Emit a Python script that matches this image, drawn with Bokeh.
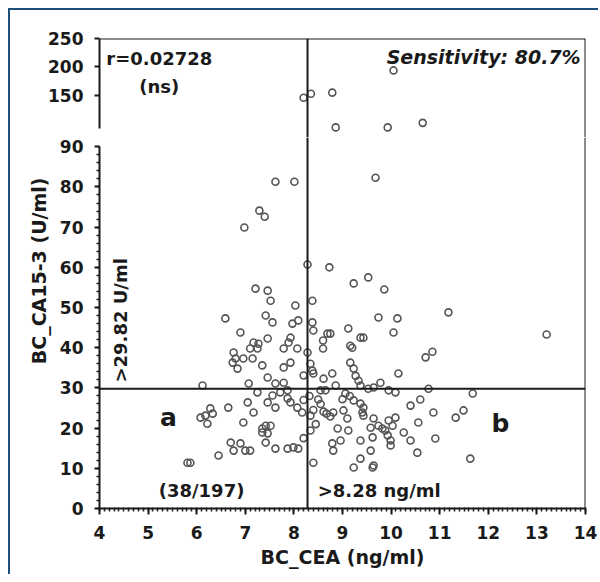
from bokeh.plotting import figure
from bokeh.layouts import column
from bokeh.models import Range1d, Span, Label, SingleIntervalTicker, FixedTicker, Title
from bokeh.embed import file_html
from bokeh.resources import INLINE

# ---------------- data ----------------
cea = [
    # upper segment (>90)
    8.20, 8.35, 8.79, 10.05, 8.86, 9.93, 10.65,
    # 60-90
    7.62, 8.01, 9.68, 6.98, 7.29, 7.40, 8.28, 8.73,
    # 45-60
    7.21, 7.46, 7.52, 8.03, 8.38, 6.59, 7.42, 7.56, 7.97, 8.09, 8.38, 9.23, 9.53, 9.86, 11.18, 9.74, 10.13,
    # 35-45
    8.40, 6.90, 7.46, 7.27, 7.17, 7.10, 7.25, 7.93, 7.89, 7.79, 8.07, 6.76, 6.80, 6.96, 7.15, 6.74, 6.84,
    7.35, 7.79, 7.93, 8.28, 8.69, 8.60, 8.60, 13.20, 9.12, 10.05, 9.37, 9.43, 9.16, 9.20, 10.85, 10.71,
    9.16, 9.23, 8.75, 8.34, 8.38,
    # 30-35
    7.46, 7.62, 7.79, 7.07, 8.20, 8.40, 8.61, 8.79, 9.27, 9.33, 9.78, 10.15, 8.86, 9.37, 6.12,
    # near 30
    7.25, 7.56, 7.72, 7.87, 9.53, 9.64, 9.95, 10.09, 10.77, 11.68, 9.06, 8.55, 8.65,
    # left 18-28
    7.05, 7.46, 7.62, 7.93, 8.07, 8.17, 6.65, 7.17, 6.28, 6.18, 6.08, 6.33, 6.22, 6.96, 7.35, 7.42, 7.52,
    7.35, 7.87, 8.20,
    # left 10-18
    6.70, 6.76, 6.90, 7.00, 7.10, 7.42, 7.46, 7.62, 7.87, 7.99, 8.09, 6.45, 5.81, 5.87, 8.20,
    # right bottom
    9.23, 9.37, 9.43, 9.41, 9.43, 10.40, 10.60, 10.87, 11.33, 11.49, 8.81, 9.02, 9.10, 9.64, 9.74, 9.95,
    10.09, 10.03, 10.56, 8.90, 9.12, 9.58, 9.82, 9.88, 9.93, 9.99, 10.26, 10.40, 10.91, 8.96, 8.79, 8.81,
    9.37, 9.62, 9.99, 9.58, 10.54, 9.37, 9.23, 9.62, 9.64, 11.63, 8.40, 8.34, 8.40, 8.61, 8.67, 8.75,
    8.34, 8.50, 8.32, 8.45, 8.55, 9.15, 9.00,
]
ca153 = [
    146, 153, 155, 194, 94, 94, 102,
    81.3, 81.3, 82.3, 69.9, 74.1, 72.6, 60.7, 60.0,
    54.7, 54.2, 51.7, 50.5, 51.7, 47.3, 48.0, 46.3, 46.0, 46.8, 46.3, 56.0, 57.5, 54.5, 48.8, 47.5, 47.3,
    44.3, 43.8, 42.3, 41.0, 41.3, 39.8, 39.8, 42.5, 41.3, 39.8, 39.8, 38.8, 37.3, 37.3, 37.3, 36.3, 34.8,
    35.6, 35.1, 36.3, 38.8, 43.5, 41.8, 39.8, 43.3, 44.8, 43.8, 42.5, 42.5, 40.5, 40.0, 39.0, 37.6,
    36.3, 34.8, 43.5, 36.0, 34.3,
    32.6, 31.1, 31.3, 31.1, 33.1, 33.6, 32.3, 33.6, 33.0, 31.8, 31.3, 33.6, 30.6, 30.6, 30.6,
    28.9, 28.1, 28.9, 29.4, 29.8, 30.1, 29.4, 28.9, 29.8, 28.6, 28.6, 29.4, 29.4,
    26.4, 26.4, 25.1, 26.4, 25.1, 23.9, 25.1, 23.9, 24.9, 23.1, 22.6, 23.6, 21.1, 21.4, 19.9, 20.6, 20.6,
    18.9, 27.4, 27.0,
    16.4, 14.4, 16.2, 14.4, 14.4, 16.4, 18.7, 14.9, 14.9, 15.2, 14.9, 13.2, 11.4, 11.4, 17.5,
    26.9, 26.1, 25.1, 23.9, 23.1, 25.6, 27.1, 23.9, 22.6, 24.4, 23.9, 24.4, 22.4, 22.4, 20.6, 21.9,
    22.6, 20.6, 21.4, 19.9, 19.4, 20.1, 19.9, 19.4, 18.2, 16.9, 18.9, 16.9, 17.4, 16.9, 16.2, 14.4,
    16.9, 17.7, 15.7, 14.4, 13.9, 12.4, 10.2, 10.2, 10.7, 12.4, 11.4, 19.4, 24.5, 24.1, 23.6, 22.9,
    23.1, 27.1, 28.0, 21.0, 26.0, 28.0, 27.2,
]
axis_break = 90
cea_cutoff = 8.28
ca153_cutoff = 29.82
upper_ticks = [150, 200, 250]
x_ticks_interval = 1
y_ticks_interval = 10

hi_x = [x for x, y in zip(cea, ca153) if y > axis_break]
hi_y = [y for y in ca153 if y > axis_break]
lo_x = [x for x, y in zip(cea, ca153) if y <= axis_break]
lo_y = [y for y in ca153 if y <= axis_break]

FONT = "DejaVu Sans"
INK = "#1a1a1a"
PT = "#555555"
BLUE = "#1f4e7a"
W = 588
LEFT = 89
RIGHT = 13

x_range = Range1d(4, 14)

up = figure(width=W, height=127, x_range=x_range, y_range=Range1d(76.3, 250),
            output_backend="svg", toolbar_location=None, x_axis_location=None,
            min_border_left=LEFT, min_border_right=RIGHT, min_border_top=28, min_border_bottom=0)
low = figure(width=W, height=437, x_range=x_range, y_range=Range1d(0, 92.3),
             output_backend="svg", toolbar_location=None,
             min_border_left=LEFT, min_border_right=RIGHT, min_border_top=0, min_border_bottom=66)


def style_y(ax):
    ax.axis_line_width = 2
    ax.axis_line_color = INK
    ax.major_tick_out = 5
    ax.major_tick_in = 0
    ax.major_tick_line_width = 2
    ax.major_tick_line_color = INK
    ax.minor_tick_out = 3
    ax.minor_tick_in = 0
    ax.minor_tick_line_width = 1.5
    ax.minor_tick_line_color = INK
    ax.major_label_text_font = FONT
    ax.major_label_text_font_style = "bold"
    ax.major_label_text_font_size = "17px"
    ax.major_label_text_color = INK
    ax.major_label_standoff = 11


for p in (up, low):
    p.grid.visible = False
    p.outline_line_color = None
    p.background_fill_color = "white"
    p.border_fill_color = "white"
    for loc, dim in ((14, "height"), (cea_cutoff, "height")):
        p.add_layout(Span(location=loc, dimension=dim, line_color=INK, line_width=2))

up.add_layout(Span(location=250, dimension="width", line_color=INK, line_width=2))
low.add_layout(Span(location=ca153_cutoff, dimension="width", line_color=INK, line_width=2))

ya = up.yaxis[0]
ya.ticker = FixedTicker(ticks=upper_ticks)
ya.bounds = (92, 250)
style_y(ya)

yb = low.yaxis[0]
yb.ticker = SingleIntervalTicker(interval=y_ticks_interval, num_minor_ticks=5)
yb.bounds = (0, axis_break)
style_y(yb)

xa = low.xaxis[0]
xa.ticker = SingleIntervalTicker(interval=x_ticks_interval, num_minor_ticks=10)
xa.axis_line_width = 2
xa.axis_line_color = INK
xa.major_tick_out = 6
xa.major_tick_in = 0
xa.major_tick_line_width = 2
xa.major_tick_line_color = INK
xa.minor_tick_out = 3
xa.minor_tick_in = 1
xa.minor_tick_line_width = 1.5
xa.minor_tick_line_color = INK
xa.major_label_text_font = FONT
xa.major_label_text_font_style = "bold"
xa.major_label_text_font_size = "17px"
xa.major_label_text_color = INK
xa.major_label_standoff = 11
xa.axis_label = "BC_CEA (ng/ml)"
xa.axis_label_text_font = FONT
xa.axis_label_text_font_style = "bold"
xa.axis_label_text_font_size = "19px"
xa.axis_label_text_color = INK
xa.axis_label_standoff = 4

# y axis title, placed on the left of the lower panel
low.add_layout(Title(text="BC_CA15-3 (U/ml)", align="right", offset=40, standoff=14,
                     text_font=FONT, text_font_style="bold", text_font_size="19px",
                     text_color=INK), "left")

for p, xs, ys in ((up, hi_x, hi_y), (low, lo_x, lo_y)):
    p.scatter(xs, ys, marker="circle", size=7, fill_color=None,
              line_color=PT, line_width=1.6)


def lab(p, x, y, text, size="18px", align="center", style="bold", angle=0.0):
    p.add_layout(Label(x=x, y=y, text=text, text_font=FONT, text_font_style=style,
                       text_font_size=size, text_color=INK, text_align=align,
                       text_baseline="middle", angle=angle))


lab(up, 4.14, 214.7, "r=0.02728", size="18px", align="left")
lab(up, 5.23, 165, "(ns)", size="18px")
lab(up, 13.9, 217, "Sensitivity: 80.7%", size="19px", align="right", style="bold italic")

lab(low, 4.43, 46.8, ">29.82 U/ml", size="18px", angle=1.5708)
lab(low, 5.42, 22.6, "a", size="25px")
lab(low, 12.25, 21.1, "b", size="25px")
lab(low, 6.1, 4.6, "(38/197)", size="18px")
lab(low, 8.49, 4.6, ">8.28 ng/ml", size="18px", align="left")

layout = column(up, low, spacing=0, margin=(8, 0, 0, 8),
                styles={"border-left": f"2px solid {BLUE}", "border-top": f"2px solid {BLUE}"})

open("out.html", "w").write(file_html(layout, INLINE))
